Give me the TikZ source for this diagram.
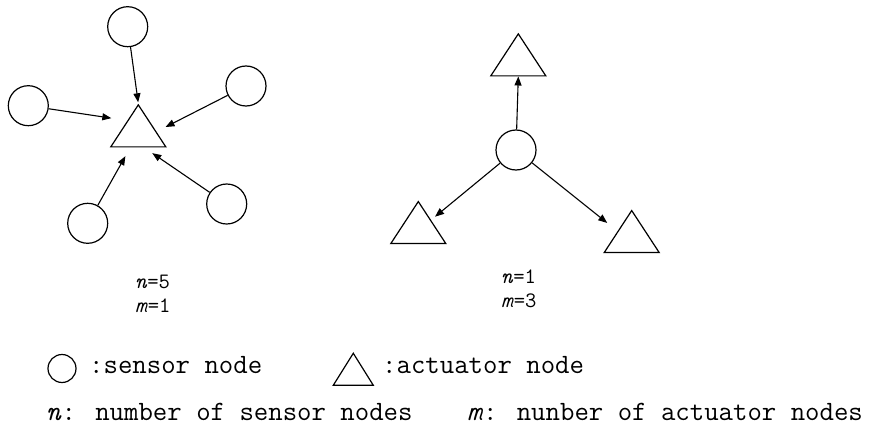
\documentclass[tikz,border=0pt]{standalone}
\usepackage{fontspec}
\usetikzlibrary{shapes.geometric,arrows.meta,calc}
\begin{document}
\begin{tikzpicture}[x=1pt,y=-1pt,
  sensor/.style={circle, draw, line width=1.2pt, minimum size=40pt, inner sep=0pt},
  actuator/.style={isosceles triangle, isosceles triangle stretches, shape border rotate=90,
    draw, line width=1.2pt, minimum width=55pt, minimum height=42pt, inner sep=0pt, anchor=apex},
  link/.style={-{Triangle[length=9pt,width=7pt]}, line width=1.1pt},
  lbl/.style={font=\ttfamily\fontsize{22}{24}\selectfont, inner sep=0pt, anchor=north west, align=left},
  key/.style={font=\ttfamily\fontsize{28}{32}\selectfont, inner sep=0pt, anchor=base west}]
\useasboundingbox (0,0) rectangle (880,425);
% n=5, m=1
\node[actuator] (aid0) at (138.3,103.3){};
\node[sensor] (sid1) at (127.7,26.7){};
\node[sensor] (sid2) at (246,86){};
\node[sensor] (sid3) at (28.3,105.7){};
\node[sensor] (sid4) at (87.7,223.3){};
\node[sensor] (sid5) at (226.7,204){};
\draw[link, shorten >=1pt] (sid1) -- (aid0.apex);
\draw[link, shorten >=10pt] (sid2) -- ($(aid0.apex)!0.64!(aid0.right corner)$);
\draw[link, shorten >=16pt] (sid3) -- ($(aid0.apex)!0.39!(aid0.left corner)$);
\draw[link, shorten >=10pt] (sid4) -- ($(aid0.left corner)!0.36!(aid0.right corner)$);
\draw[link, shorten >=10pt] (sid5) -- ($(aid0.left corner)!0.6!(aid0.right corner)$);
\node[lbl] (nm0) at (135,275){\textit{n}=5\\\textit{m}=1};
% n=1, m=3
\node[sensor] (sid0) at (516,150){};
\node[actuator] (aid1) at (518.3,32.3){};
\node[actuator] (aid2) at (418.3,200){};
\node[actuator] (aid3) at (631.7,209){};
\draw[link] (sid0) -- (aid1.lower side);
\draw[link, shorten >=5pt] (sid0) -- ($(aid2.apex)!0.45!(aid2.right corner)$);
\draw[link, shorten >=13pt] (sid0) -- (aid3.left side);
\node[lbl] (nm1) at (501,270){\textit{n}=1\\\textit{m}=3};
% legend
\node[sensor, minimum size=28pt] (skey) at (62,368.5){};
\node[key] (stxt) at (89,373.5){:sensor node};
\node[actuator, minimum width=40pt, minimum height=32pt] (akey) at (353.3,351.7){};
\node[key] (atxt) at (382,373.5){:actuator node};
\node[key] (ntxt) at (46,420){\textit{n}: number of sensor nodes};
\node[key] (mtxt) at (467,420){\textit{m}: nunber of actuator nodes};
\end{tikzpicture}
\end{document}
